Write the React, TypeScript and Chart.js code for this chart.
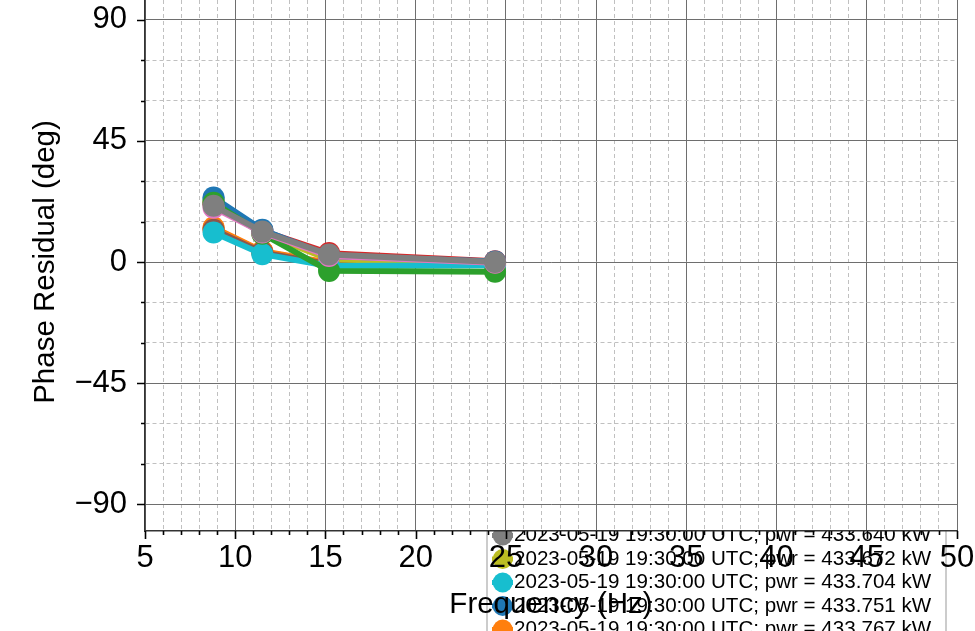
import React, { useEffect, useRef } from 'react';
import { Chart, registerables } from 'chart.js';

Chart.register(...registerables);

// ---------------- data ----------------
const FREQ_HZ = [8.8, 11.5, 15.2, 24.4];

const PWR_KW = [
  '433.412', '433.455', '433.501', '433.538', '433.566', '433.590', '433.617',
  '433.640', '433.672', '433.704', '433.751', '433.767',
];

const COLORS = [
  '#1f77b4', '#ff7f0e', '#2ca02c', '#d62728', '#9467bd', '#8c564b',
  '#e377c2', '#7f7f7f', '#bcbd22', '#17becf', '#1f77b4', '#ff7f0e',
];

// phase residual (deg) for each run, at FREQ_HZ
const RES_00 = [23.4, 11.8, 2.0, -0.2];
const RES_01 = [12.5, 3.8, -0.5, -0.8];
const RES_02 = [22.0, 10.5, -3.3, -3.6];
const RES_03 = [21.5, 11.6, 3.3, 0.3];
const RES_04 = [22.0, 11.0, 2.5, 0.0];
const RES_05 = [12.0, 3.5, -0.8, -1.0];
const RES_06 = [20.2, 11.0, 2.2, -0.3];
const RES_07 = [20.9, 11.3, 2.8, 0.0];
const RES_08 = [22.6, 10.8, 1.0, -0.6];
const RES_09 = [11.0, 2.9, -1.5, -1.2];
const RES_10 = [24.0, 12.0, 2.2, 0.2];
const RES_11 = [12.8, 4.0, -0.3, -0.5];

const RESIDUALS = [
  RES_00, RES_01, RES_02, RES_03, RES_04, RES_05,
  RES_06, RES_07, RES_08, RES_09, RES_10, RES_11,
];

// drawing order (lower = on top)
const DRAW_ORDER = [8, 10, 2, 5, 7, 9, 1, 0, 6, 3, 4, 11];

const X_MAJOR = [5, 10, 15, 20, 25, 30, 35, 40, 45, 50];
const Y_MAJOR = [-90, -45, 0, 45, 90];
const X_MINOR_STEP = 1;
const Y_MINOR_STEP = 15;

// ---------------- styles ----------------
const FONT = '"Liberation Sans", Arial, Helvetica, sans-serif';
const TICK_SIZE = 31;
const TITLE_SIZE = 29.5;
const LEGEND_SIZE = 20.6;

const fmt = (v: number) => (v < 0 ? '\u2212' + Math.abs(v) : String(v));

const plotFrame = {
  id: 'plotFrame',
  beforeDraw(chart: any) {
    const { ctx, chartArea: a } = chart;
    const ds = chart.data.datasets;
    const rowH = 23.5;
    const rowGray = a.bottom + 4.5; // row of the 8th entry
    const row0 = rowGray - 7 * rowH;
    const left = 487;
    const right = 946;
    ctx.save();
    // legend frame
    ctx.fillStyle = '#ffffff';
    ctx.strokeStyle = '#cccccc';
    ctx.lineWidth = 2;
    ctx.beginPath();
    ctx.rect(left, row0 - 16, right - left, rowH * ds.length + 20);
    ctx.fill();
    ctx.stroke();
    ctx.font = `${LEGEND_SIZE}px ${FONT}`;
    ctx.textBaseline = 'middle';
    ctx.textAlign = 'left';
    ds.forEach((d: any, i: number) => {
      const y = row0 + i * rowH;
      ctx.fillStyle = d.borderColor;
      ctx.strokeStyle = d.borderColor;
      ctx.lineWidth = 5;
      ctx.beginPath();
      ctx.moveTo(492, y);
      ctx.lineTo(513, y);
      ctx.stroke();
      ctx.beginPath();
      ctx.arc(502.7, y, 10, 0, Math.PI * 2);
      ctx.fill();
      ctx.fillStyle = '#000000';
      ctx.fillText(d.label, 514, y);
    });
    // plot background hides the legend part behind the axes
    ctx.fillStyle = '#ffffff';
    ctx.fillRect(a.left, a.top, a.right - a.left, a.bottom - a.top);
    ctx.restore();
  },
  afterDraw(chart: any) {
    const { ctx, chartArea: a, scales } = chart;
    const xs = scales.x;
    const ys = scales.y;
    ctx.save();
    ctx.strokeStyle = '#000000';
    ctx.lineWidth = 1.6;
    ctx.beginPath();
    for (let v = X_MAJOR[0]; v <= X_MAJOR[X_MAJOR.length - 1]; v += X_MINOR_STEP) {
      const px = Math.round(xs.getPixelForValue(v)) + 0.5;
      const len = X_MAJOR.includes(v) ? 8 : 4;
      ctx.moveTo(px, a.bottom);
      ctx.lineTo(px, a.bottom + len);
    }
    for (let v = Y_MAJOR[0]; v <= Y_MAJOR[Y_MAJOR.length - 1]; v += Y_MINOR_STEP) {
      const py = Math.round(ys.getPixelForValue(v)) + 0.5;
      const len = Y_MAJOR.includes(v) ? 8 : 4;
      ctx.moveTo(a.left - len, py);
      ctx.lineTo(a.left, py);
    }
    ctx.stroke();
    ctx.restore();
  },
};

export default function App() {
  const ref = useRef<HTMLCanvasElement | null>(null);

  useEffect(() => {
    if (!ref.current) return;
    const datasets = RESIDUALS.map((r, i) => ({
      label: `2023-05-19 19:30:00 UTC; pwr = ${PWR_KW[i]} kW`,
      data: FREQ_HZ.map((f, j) => ({ x: f, y: r[j] })),
      borderColor: COLORS[i],
      backgroundColor: COLORS[i],
      pointBackgroundColor: COLORS[i],
      pointBorderWidth: 0,
      pointRadius: 11,
      pointHoverRadius: 11,
      borderWidth: 6,
      tension: 0,
      order: DRAW_ORDER[i],
    }));

    const chart = new Chart(ref.current, {
      type: 'line',
      data: { datasets },
      plugins: [plotFrame],
      options: {
        animation: false,
        responsive: false,
        devicePixelRatio: 1,
        layout: { autoPadding: false, padding: { left: 0, top: 0, right: 18, bottom: 62 } },
        plugins: { legend: { display: false }, tooltip: { enabled: false } },
        scales: {
          x: {
            type: 'linear',
            min: 5,
            max: 50,
            afterBuildTicks: (s: any) => {
              const t = [];
              for (let v = 5; v <= 50; v += X_MINOR_STEP) t.push({ value: v });
              s.ticks = t;
            },
            afterFit: (s: any) => {
              s.height = 100;
              s.paddingLeft = 0;
              s.paddingRight = 0;
            },
            ticks: {
              autoSkip: false,
              maxRotation: 0,
              minRotation: 0,
              padding: 8.6,
              color: '#000',
              font: { family: FONT, size: TICK_SIZE },
              callback: (v: any) => (X_MAJOR.includes(v) ? fmt(v) : ''),
            },
            grid: {
              drawTicks: false,
              lineWidth: 1,
              color: (c: any) => (c.tick && X_MAJOR.includes(c.tick.value) ? '#6e6e6e' : '#c0c0c0'),
            },
            border: {
              display: true,
              color: '#333333',
              width: 1.5,
              dash: (c: any) => (c.tick && !X_MAJOR.includes(c.tick.value) ? [4, 3] : []),
            },
            title: {
              display: true,
              text: 'Frequency (Hz)',
              color: '#000',
              font: { family: FONT, size: TITLE_SIZE },
              padding: { top: 0, bottom: 8.5 },
            },
          },
          y: {
            type: 'linear',
            min: -100,
            max: 100,
            afterBuildTicks: (s: any) => {
              const t = [];
              for (let v = -90; v <= 90; v += Y_MINOR_STEP) t.push({ value: v });
              s.ticks = t;
            },
            afterFit: (s: any) => {
              s.width = 145;
              s.paddingTop = 0;
              s.paddingBottom = 0;
            },
            ticks: {
              autoSkip: false,
              padding: 18,
              color: '#000',
              font: { family: FONT, size: TICK_SIZE },
              callback: (v: any) => (Y_MAJOR.includes(v) ? fmt(v) : ''),
            },
            grid: {
              drawTicks: false,
              lineWidth: 1,
              color: (c: any) => (c.tick && Y_MAJOR.includes(c.tick.value) ? '#6e6e6e' : '#c0c0c0'),
            },
            border: {
              display: true,
              color: '#333333',
              width: 1.5,
              dash: (c: any) => (c.tick && !Y_MAJOR.includes(c.tick.value) ? [4, 3] : []),
            },
            title: {
              display: true,
              text: 'Phase Residual (deg)',
              color: '#000',
              font: { family: FONT, size: TITLE_SIZE },
              padding: { top: 28, bottom: 0 },
            },
          },
        },
      },
    } as any);
    return () => chart.destroy();
  }, []);

  return (
    <div
      style={{
        position: 'fixed',
        left: 0,
        top: 0,
        width: 975,
        height: 631,
        overflow: 'hidden',
        background: '#ffffff',
      }}
    >
      <canvas
        ref={ref}
        width={975}
        height={700}
        style={{ position: 'absolute', left: 0, top: -7, width: 975, height: 700, display: 'block' }}
      />
    </div>
  );
}
